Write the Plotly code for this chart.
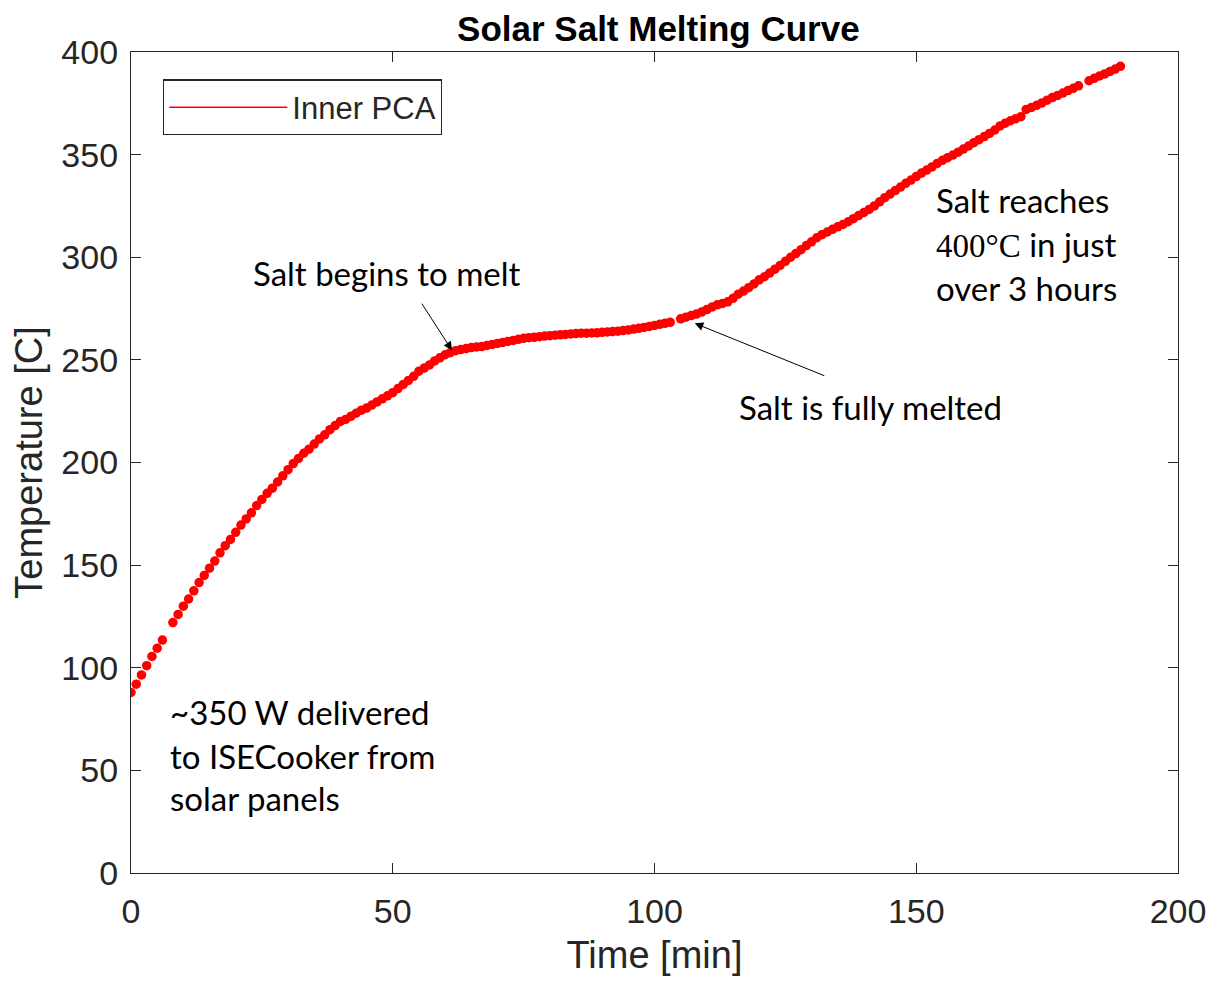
import plotly.graph_objects as go

# ---- data ----
time_min = list(range(0, 190))
temp_c = [
    88, 92, 96.5, 101, 105.5, 109.5, 113.5, None, 122, 126,
    130, 133.5, 137.5, 141.5, 145, 148.5, 152, 156, 159.5, 162.5,
    166, 169.5, 172.5, 175.5, 179, 182, 185, 187.5, 190.5, 193.5,
    196.5, 199.5, 202, 204.5, 206.5, 209, 211.5, 213.5, 216, 218,
    220, 221, 222.5, 224, 225.5, 226.5, 228, 229.5, 231, 232.5,
    234, 236, 238, 240, 242, 244.5, 246, 247.5, 249.5, 251,
    252.5, 253.5, 254.5, 255, 255.5, 256, 256.3, 256.5, 257, 257.5,
    258, 258.5, 259, 259.5, 260, 260.5, 260.8, 261, 261.3, 261.6,
    261.8, 262, 262.2, 262.4, 262.6, 262.8, 263, 263, 263.1, 263.2,
    263.4, 263.6, 263.8, 264, 264.3, 264.6, 265, 265.4, 265.8, 266.3,
    266.8, 267.3, 267.8, 268.3, None, 270, 270.8, 271.6, 272.3, 273.3,
    274.5, 275.8, 276.8, 277.5, 278.3, 280, 282, 283.5, 285.2, 287,
    289, 290.5, 292.3, 294.2, 296, 298, 300, 301.8, 303.7, 305.7,
    307.5, 309.5, 311, 312.3, 313.6, 314.8, 316, 317.3, 318.8, 320.3,
    321.8, 323.3, 325, 327, 329, 330.8, 332.5, 334.2, 336, 337.6,
    339.3, 341, 342.5, 344, 345.7, 347.2, 348.5, 349.8, 351.2, 352.7,
    354.2, 355.8, 357.3, 358.8, 360.3, 362, 364, 365.3, 366.5, 367.5,
    368.5, 372, 373, 374, 375.2, 376.5, 377.8, 378.8, 380, 381.2,
    382.3, 383.5, None, 386, 387.2, 388.3, 389.3, 390.5, 391.7, 393,
]
x_ticks = [0, 50, 100, 150, 200]
y_ticks = [0, 50, 100, 150, 200, 250, 300, 350, 400]
series_name = "Inner PCA"
title_text = "Solar Salt Melting Curve"
x_title = "Time [min]"
y_title = "Temperature [C]"

AX = "#262626"
SANS = "Liberation Sans, Arial, sans-serif"
NOTE = "Lato, Carlito, Calibri, sans-serif"

fig = go.Figure()
fig.add_trace(go.Scatter(
    x=time_min, y=temp_c, mode="markers",
    marker=dict(color="#ff0000", size=9.5, line=dict(width=0)),
    showlegend=False, hoverinfo="x+y",
))
fig.add_trace(go.Scatter(
    x=[None], y=[None], mode="lines", name=series_name,
    line=dict(color="#ff0000", width=1.5),
))

axis_common = dict(
    showline=True, linecolor=AX, linewidth=1.3, mirror="ticks",
    ticks="inside", ticklen=10, tickwidth=1.3, tickcolor=AX,
    showgrid=False, zeroline=False,
    tickfont=dict(family=SANS, size=34, color=AX),
)

fig.update_layout(
    width=1210, height=973,
    paper_bgcolor="white", plot_bgcolor="white",
    margin=dict(l=123, r=40, t=44, b=103),
    title=dict(text="<b>" + title_text + "</b>", x=0.5375, xanchor="center",
               y=0.9784, yanchor="middle",
               font=dict(family=SANS, size=35, color="black")),
    xaxis=dict(range=[0, 200], tickvals=x_ticks, ticklabelstandoff=8,
               title=dict(text=x_title, font=dict(family=SANS, size=38, color=AX), standoff=12),
               **axis_common),
    yaxis=dict(range=[0, 400], tickvals=y_ticks, ticklabelstandoff=5,
               title=dict(text=y_title, font=dict(family=SANS, size=38, color=AX), standoff=12),
               **axis_common),
    legend=dict(x=0.0306, y=0.9667, xanchor="left", yanchor="top",
                bordercolor=AX, borderwidth=1.3, bgcolor="white",
                font=dict(family=SANS, size=31, color=AX),
                itemwidth=118, tracegroupgap=0),
    showlegend=True,
)

note_font = dict(family=NOTE, size=33, color="black")

def note(x, y, text):
    fig.add_annotation(x=x, y=y, xref="x", yref="y", text=text, showarrow=False,
                       xanchor="left", yanchor="middle", align="left", font=note_font)

note(23.0, 292.5, "Salt begins to melt")
note(115.8, 227.1, "Salt is fully melted")
note(153.4, 327.8, "Salt reaches")
note(153.4, 306.5, "<span style='font-family:Liberation Serif, serif'>400°C</span> in just")
note(153.4, 285.2, "over 3 hours")
note(7.07, 78.5, "~350 W delivered")
note(7.07, 57.1, "to ISECooker from")
note(7.07, 36.3, "solar panels")

# arrows
fig.add_annotation(x=61.3, y=254.7, xref="x", yref="y", text="", showarrow=True,
                   ax=-31, ay=-48, arrowhead=2, arrowsize=1.7, arrowwidth=1, arrowcolor="black")
fig.add_annotation(x=107.7, y=267.8, xref="x", yref="y", text="", showarrow=True,
                   ax=131, ay=53, arrowhead=2, arrowsize=1.7, arrowwidth=1, arrowcolor="black")

fig.write_html("out.html")
